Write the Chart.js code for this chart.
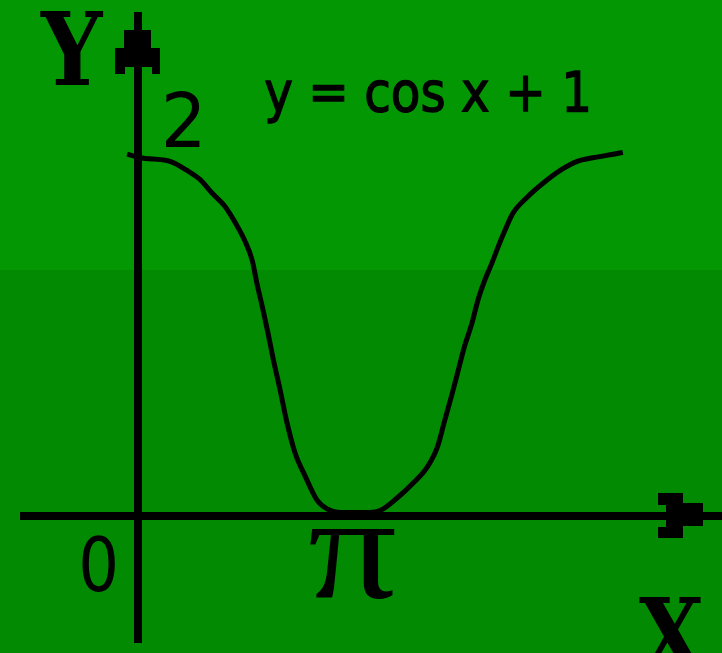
<!DOCTYPE html>
<html lang="en">
<head>
    <meta charset="UTF-8">
    <title>y = cos x + 1</title>
    <script src="https://cdn.jsdelivr.net/npm/chart.js"></script>
    <style>
        html, body { margin: 0; padding: 0; overflow: hidden; background: #029602; }
        canvas { display: block; }
    </style>
</head>
<body>
    <canvas id="cosChart" width="722" height="653"></canvas>

    <script>
        // curve (x in radians, y = cos x + 1)
        const xValues = [-0.16, 0.03, 0.47, 0.72, 0.91, 1.10, 1.28, 1.43, 1.57, 1.68, 1.75, 1.83, 1.91, 1.99,
                         2.09, 2.19, 2.31, 2.46, 2.63, 2.78, 2.97, 3.19, 3.41, 3.56, 3.81, 4.04, 4.25, 4.40,
                         4.51, 4.62, 4.71, 4.80, 4.91, 5.00, 5.10, 5.21, 5.29, 5.40, 5.51, 5.72, 5.96, 6.21,
                         6.46, 6.69, 6.99, 7.13];
        const yValues = [2.01, 1.99, 1.97, 1.92, 1.87, 1.79, 1.72, 1.63, 1.53, 1.42, 1.29, 1.16, 1.02, 0.87,
                         0.70, 0.52, 0.35, 0.22, 0.09, 0.04, 0.02, 0.02, 0.02, 0.03, 0.10, 0.18, 0.27, 0.38,
                         0.53, 0.68, 0.81, 0.94, 1.07, 1.20, 1.31, 1.41, 1.49, 1.59, 1.68, 1.77, 1.85, 1.92,
                         1.97, 1.99, 2.01, 2.02];
        const tickLabels = ['0', '2', 'π'];
        const axisNames = ['X', 'Y'];
        const formula = 'y = cos x + 1';

        const points = xValues.map((x, i) => ({ x: x, y: yValues[i] }));

        // squeeze/stretch a text so its ink fills the given box
        function fitText(ctx, str, font, x0, y0, x1, y1, thicken) {
            ctx.font = font;
            const m = ctx.measureText(str);
            const w = m.actualBoundingBoxLeft + m.actualBoundingBoxRight;
            const h = m.actualBoundingBoxAscent + m.actualBoundingBoxDescent;
            ctx.save();
            ctx.translate(x0, y0);
            ctx.scale((x1 - x0) / w, (y1 - y0) / h);
            ctx.fillText(str, m.actualBoundingBoxLeft, m.actualBoundingBoxAscent);
            if (thicken) {
                ctx.lineWidth = thicken;
                ctx.strokeText(str, m.actualBoundingBoxLeft, m.actualBoundingBoxAscent);
            }
            ctx.restore();
        }

        function poly(ctx, pts) {
            ctx.beginPath();
            pts.forEach((p, i) => i ? ctx.lineTo(p[0], p[1]) : ctx.moveTo(p[0], p[1]));
            ctx.closePath();
            ctx.fill();
        }

        const backdrop = {
            id: 'backdrop',
            beforeDraw(chart) {
                const ctx = chart.ctx;
                ctx.save();
                ctx.fillStyle = '#039803';
                ctx.fillRect(0, 0, chart.width, 270);
                ctx.fillStyle = '#028a02';
                ctx.fillRect(0, 270, chart.width, chart.height - 270);
                ctx.restore();
            }
        };

        const axes = {
            id: 'axes',
            beforeDatasetsDraw(chart) {
                const ctx = chart.ctx;
                const ox = chart.scales.x.getPixelForValue(0);
                const oy = chart.scales.y.getPixelForValue(0);
                ctx.save();
                ctx.fillStyle = '#000';
                // y axis + stepped arrow head
                ctx.fillRect(ox - 4, 12, 8, 643 - 12);
                poly(ctx, [
                    [ox - 4, 12], [ox + 4, 12], [ox + 4, 30], [ox + 13, 30], [ox + 13, 48],
                    [ox + 22, 48], [ox + 22, 74], [ox + 14, 74], [ox + 14, 67], [ox - 13, 67],
                    [ox - 13, 74], [ox - 23, 74], [ox - 23, 48], [ox - 14, 48], [ox - 14, 30], [ox - 4, 30]
                ]);
                // x axis + stepped arrow head
                ctx.fillRect(20, oy - 4, chart.width - 20, 8);
                poly(ctx, [
                    [658, oy - 23], [683, oy - 23], [683, oy - 13], [703, oy - 13], [703, oy + 10],
                    [683, oy + 10], [683, oy + 22], [658, oy + 22], [658, oy + 11], [666, oy + 11],
                    [666, oy - 11], [658, oy - 11]
                ]);
                ctx.restore();
            },
            afterDraw(chart) {
                const ctx = chart.ctx;
                ctx.save();
                ctx.fillStyle = '#000';
                ctx.strokeStyle = '#000';
                ctx.textBaseline = 'alphabetic';
                ctx.textAlign = 'left';
                fitText(ctx, axisNames[1], 'bold 90px "DejaVu Serif"', 40, 11, 104, 85);
                fitText(ctx, axisNames[0], 'bold 90px "DejaVu Serif"', 639, 597, 704, 671);
                fitText(ctx, tickLabels[1], '70px "DejaVu Sans"', 166, 91, 200, 147);
                fitText(ctx, tickLabels[0], '70px "DejaVu Sans"', 82, 535, 115, 592);
                fitText(ctx, tickLabels[2], '70px "Liberation Serif"', 308, 530, 396, 600);
                fitText(ctx, formula, '56px "DejaVu Sans"', 265, 72, 588, 123, 1.4);
                ctx.restore();
            }
        };

        const ctx = document.getElementById('cosChart').getContext('2d');
        new Chart(ctx, {
            type: 'scatter',
            data: {
                datasets: [{
                    label: formula,
                    data: points,
                    showLine: true,
                    borderColor: '#000',
                    borderWidth: 5,
                    pointRadius: 0,
                    cubicInterpolationMode: 'monotone',
                    fill: false
                }]
            },
            options: {
                responsive: false,
                animation: false,
                layout: { padding: 0 },
                scales: {
                    x: { type: 'linear', min: -138 / 68, max: (722 - 138) / 68, display: false },
                    y: { type: 'linear', min: -137 / 180, max: 516 / 180, display: false }
                },
                plugins: {
                    legend: { display: false },
                    tooltip: { enabled: false }
                }
            },
            plugins: [backdrop, axes]
        });
    </script>
</body>
</html>
